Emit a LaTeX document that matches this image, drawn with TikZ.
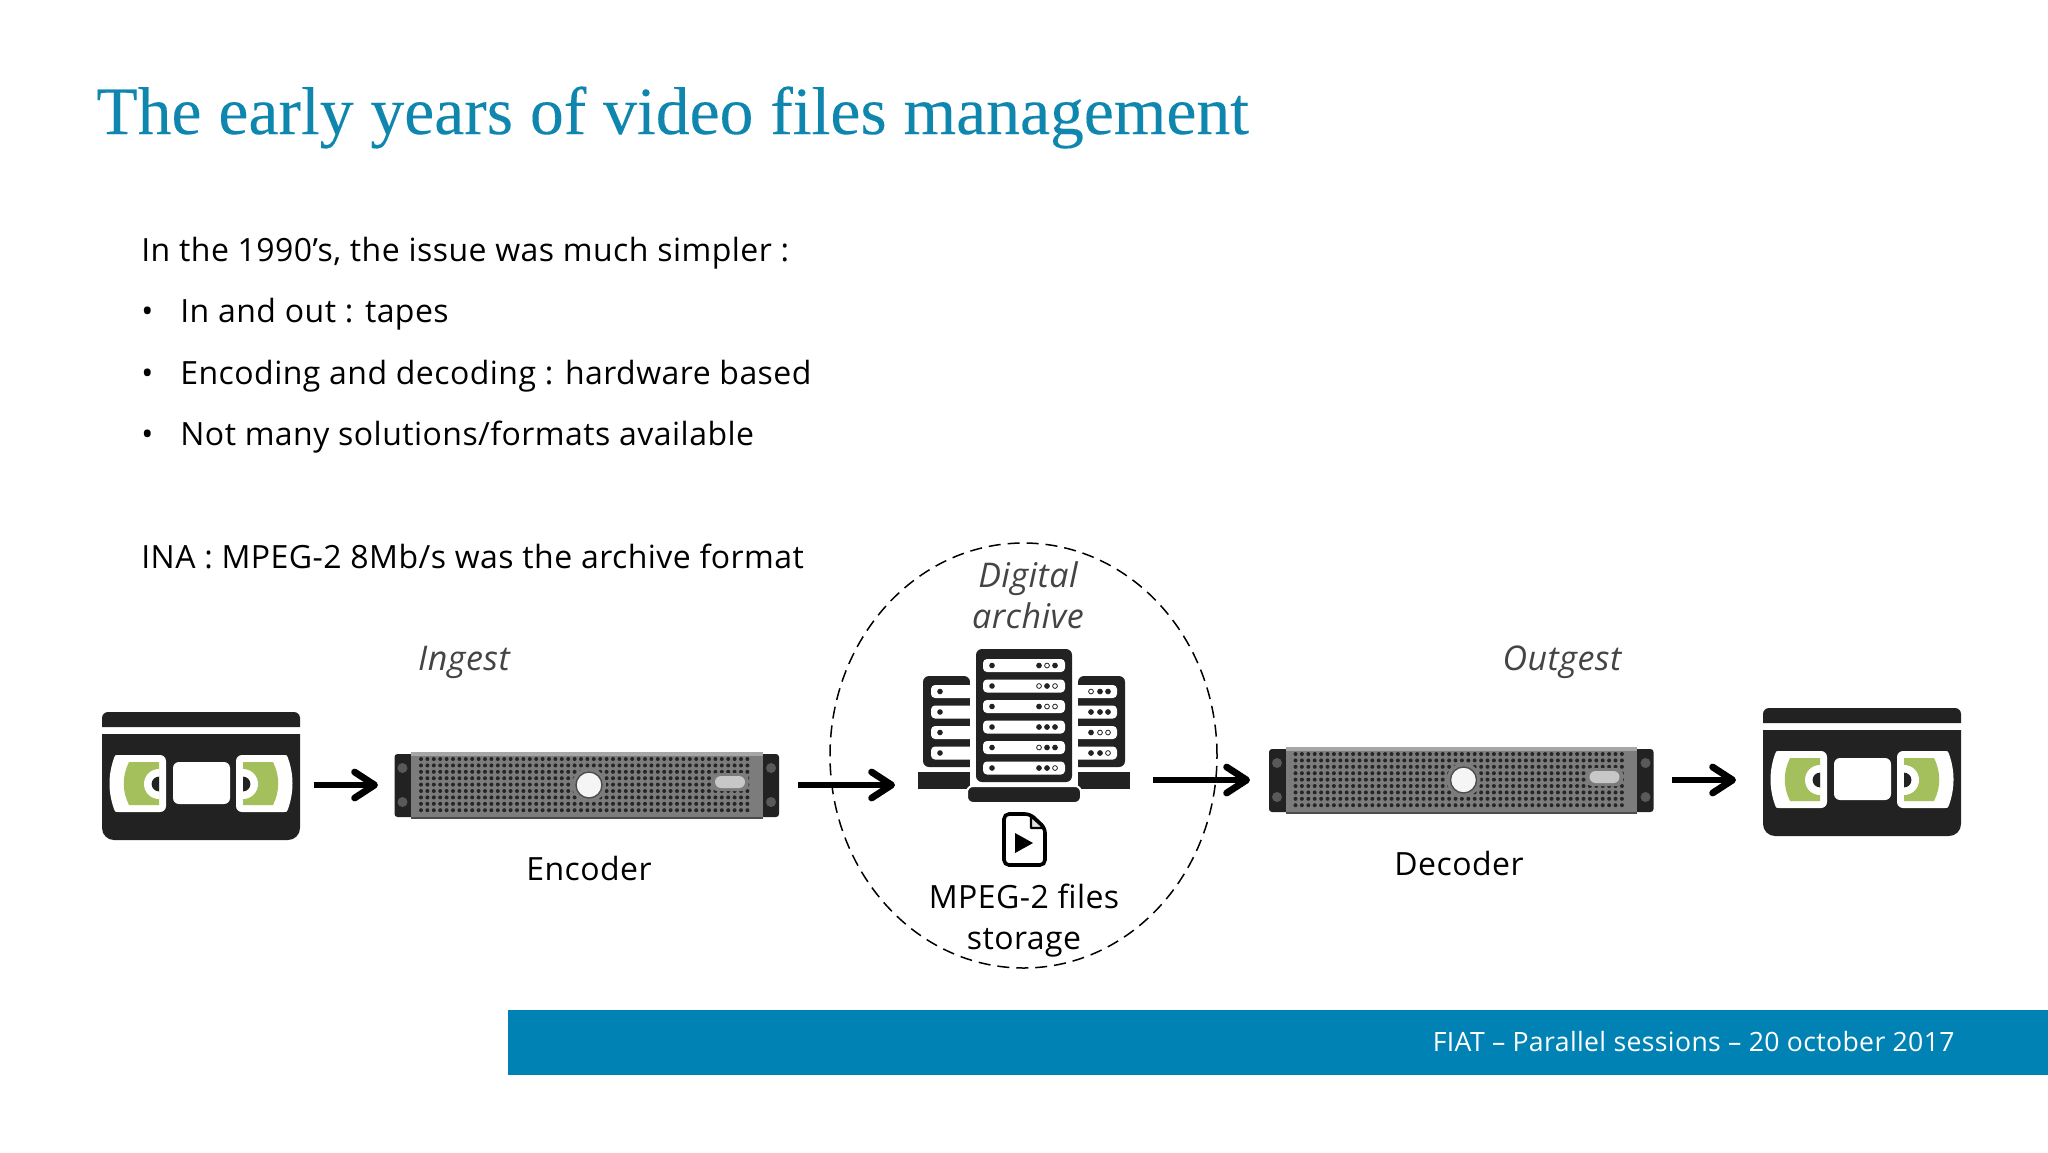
\documentclass[tikz,border=0pt]{standalone}
\usepackage{fontspec}
\setmainfont[LetterSpace=1.4]{Open Sans}
\newfontfamily\titlefont[FakeBold=0.12]{Liberation Serif}
\usetikzlibrary{positioning, arrows.meta, shapes.geometric}
\definecolor{titleblue}{HTML}{0F86AE}
\definecolor{bandblue}{HTML}{0082B4}
\definecolor{tapedark}{HTML}{222223}
\definecolor{tapegreen}{HTML}{A4C05C}
\definecolor{labelgray}{HTML}{444444}
\definecolor{facegray}{HTML}{7C7C7C}

\begin{document}
\begin{tikzpicture}[x=0.5pt, y=-0.5pt,
  body/.style={anchor=base west, inner sep=0pt, font=\fontsize{16}{19}\selectfont, text=black},
  caption/.style={anchor=base, inner sep=0pt, font=\fontsize{16}{19}\selectfont, text=black},
  note/.style={anchor=base, inner sep=0pt, font=\fontsize{17}{20}\selectfont\itshape, text=labelgray},
  port/.style={inner sep=0pt, outer sep=0pt, minimum height=1pt},
  flow/.style={line width=3.4pt, -{Straight Barb[length=10pt, width=13pt, round]}},
  pics/tapeside/.style={code={
    \fill[white] (16,43) [rounded corners=3pt] -- (64,43) -- (64,100) [sharp corners] -- (16,100) .. controls (13,100) .. (12,97) .. controls (6,80) and (6,63) .. (12,46) .. controls (13,43) .. (16,43) -- cycle;
    \fill[tapegreen] (27,50) -- (57,50) -- (57,93) -- (27,93) .. controls (20,79) and (20,64) .. (27,50) -- cycle;
    \begin{scope}
      \clip (30,50) rectangle (57,93);
      \fill[white] (57,72) circle[radius=7.5pt];
      \fill[tapedark] (57,72) circle[radius=3.7pt];
    \end{scope}
  }},
  pics/vhstape/.style={code={
    \fill[tapedark] (0,15) [rounded corners=3pt] -- (0,0) -- (198,0) [sharp corners] -- (198,15) -- cycle;
    \fill[tapedark] (0,22) [rounded corners=6pt] -- (0,128) -- (198,128) [sharp corners] -- (198,22) -- cycle;
    \pic at (0,0) {tapeside};
    \pic[xscale=-1] at (198,0) {tapeside};
    \fill[white, rounded corners=3pt] (71,50) rectangle (128,92);
  }},
  pics/rackserver/.style={code={
    \fill[tapedark, rounded corners=1.5pt] (0,2) rectangle (384.5,65);
    \fill[facegray] (16.5,0) rectangle (368,67);
    \fill[black!35] (16.5,0) rectangle (368,4);
    \fill[black!70] (16.5,65) rectangle (368,67);
    \foreach \px in {8, 376.5} {
      \fill[black!65] (\px,16) circle[radius=2.5pt];
      \fill[black!65] (\px,50) circle[radius=2.5pt];
    }
    \foreach \row in {0,...,8} {
      \foreach \col in {0,...,51} {
        \fill[black!85] (26.5+\col*6.4,7+\row*6.4) circle[radius=1pt];
      }
    }
    \fill[facegray] (194.5,33) circle[radius=8.5pt];
    \draw[black!70, fill=black!4, line width=0.7pt] (194.5,33) circle[radius=6.5pt];
    \fill[facegray, rounded corners=3pt] (317,21) rectangle (354,39);
    \fill[black!22, rounded corners=3pt] (320.5,24) rectangle (350.5,36);
  }}]
  \useasboundingbox (0,0) rectangle (2048,1152);

  % heading and text
  \node[anchor=base west, inner sep=0pt, text=titleblue, font=\titlefont\fontsize{33.8}{40}\selectfont] (title) at (96,134) {The early years of video files management};
  \node[body] (intro) at (141,261) {In the 1990’s, the issue was much simpler :};
  \node[body] (dot1) at (141,322) {•};
  \node[body] (dot2) at (141,384) {•};
  \node[body] (dot3) at (141,445) {•};
  \node[body] (item1) at (180,322) {In and out : tapes};
  \node[body] (item2) at (180,384) {Encoding and decoding : hardware based};
  \node[body] (item3) at (180,445) {Not many solutions/formats available};
  \node[body] (format) at (141,568) {INA : MPEG-2 8Mb/s was the archive format};

  % footer
  \node[fill=bandblue, inner sep=0pt, minimum width=770pt, minimum height=32.5pt] (band) at (1278,1042.5) {};
  \node[anchor=base east, inner sep=0pt, text=white, font=\fontsize{13.3}{17}\selectfont] (date) at (1955,1051) {FIAT – Parallel sessions – 20 october 2017};

  % archive circle
  \node[ellipse, draw, dash pattern=on 6pt off 3.5pt, line width=0.75pt, inner sep=0pt, minimum width=193.5pt, minimum height=212.5pt] (archive) at (1023.5,755.5) {};

  % icons
  \pic at (102,712) {vhstape};
  \pic at (394.5,752) {rackserver};
  \pic at (1269,747) {rackserver};
  \pic at (1763,708) {vhstape};

  % side towers
  \fill[tapedark, rounded corners=3pt] (970,767) -- (923,767) -- (923,676) -- (970,676) [sharp corners] -- cycle;
  \fill[tapedark, rounded corners=3pt] (1078,767) -- (1125,767) -- (1125,676) -- (1078,676) [sharp corners] -- cycle;
  \fill[tapedark] (918,772) rectangle (970,789);
  \fill[tapedark] (1078,772) rectangle (1130,789);
  \foreach \k in {0,...,3} {
    \fill[white, rounded corners=2pt] (931,685+\k*20.5) rectangle (975,698+\k*20.5);
    \fill[tapedark] (940,691.5+\k*20.5) circle[radius=1.4pt];
    \fill[white, rounded corners=2pt] (1073,685+\k*20.5) rectangle (1117,698+\k*20.5);
  }
  \fill[white] (970,670) rectangle (976,795);
  \fill[white] (1072,670) rectangle (1078,795);

  % middle tower
  \fill[tapedark, rounded corners=3pt] (976,649) rectangle (1072,782);
  \draw[white, fill=tapedark, rounded corners=3pt, line width=1pt] (967,803) -- (967,786) -- (1081,786) -- (1081,803) -- cycle;
  \foreach \k/\a/\b/\c in {0/tapedark/white/tapedark, 1/white/tapedark/white, 2/tapedark/white/white, 3/tapedark/tapedark/tapedark, 4/white/tapedark/tapedark, 5/tapedark/tapedark/white} {
    \fill[white, rounded corners=2pt] (983,659+\k*20.5) rectangle (1065,672+\k*20.5);
    \fill[tapedark] (992,665.5+\k*20.5) circle[radius=1.4pt];
    \draw[tapedark, fill=\a, line width=0.4pt] (1039,665.5+\k*20.5) circle[radius=1.2pt];
    \draw[tapedark, fill=\b, line width=0.4pt] (1047,665.5+\k*20.5) circle[radius=1.2pt];
    \draw[tapedark, fill=\c, line width=0.4pt] (1055,665.5+\k*20.5) circle[radius=1.2pt];
  }
  \foreach \k/\a/\b/\c in {0/white/tapedark/tapedark, 1/tapedark/tapedark/tapedark, 2/tapedark/white/white, 3/tapedark/tapedark/white} {
    \draw[tapedark, fill=\a, line width=0.4pt] (1091,691.5+\k*20.5) circle[radius=1.2pt];
    \draw[tapedark, fill=\b, line width=0.4pt] (1100,691.5+\k*20.5) circle[radius=1.2pt];
    \draw[tapedark, fill=\c, line width=0.4pt] (1108,691.5+\k*20.5) circle[radius=1.2pt];
  }

  % file icon
  \draw[black, fill=white, line width=1.8pt, rounded corners=2.5pt] (1030,814) -- (1004,814) -- (1004,865) -- (1045,865) -- (1045,828) -- cycle;
  \draw[black, fill=black!12, line width=1.2pt, line join=round] (1031,816) -- (1031,828) -- (1044,828) -- cycle;
  \fill[black] (1015,833) -- (1033,843) -- (1015,853) -- cycle;

  % labels
  \node[note] (ingest) at (464,670) {Ingest};
  \node[note] (outgest) at (1562,670) {Outgest};
  \node[note] (digital) at (1028,587) {Digital};
  \node[note] (archivetext) at (1028,628) {archive};
  \node[caption] (encodertext) at (589,880) {Encoder};
  \node[caption] (decodertext) at (1459,875) {Decoder};
  \node[caption] (mpeg) at (1024,908) {MPEG-2 files};
  \node[caption] (storage) at (1024,949) {storage};

  % ports for the arrows
  \node[port, minimum width=112.5pt] (tapein) at (201.5,785) {};
  \node[port, minimum width=210pt] (encoder) at (588,785) {};
  \node[port, minimum width=129pt] (rack) at (1024,785) {};
  \node[port, minimum width=211pt] (decoder) at (1461,780) {};
  \node[port, minimum width=126pt] (tapeout) at (1862,780) {};

  \draw[flow] (tapein) -- (encoder);
  \draw[flow] (encoder) -- (rack);
  \draw[flow] (rack.east |- decoder) -- (decoder);
  \draw[flow] (decoder) -- (tapeout);
\end{tikzpicture}
\end{document}
